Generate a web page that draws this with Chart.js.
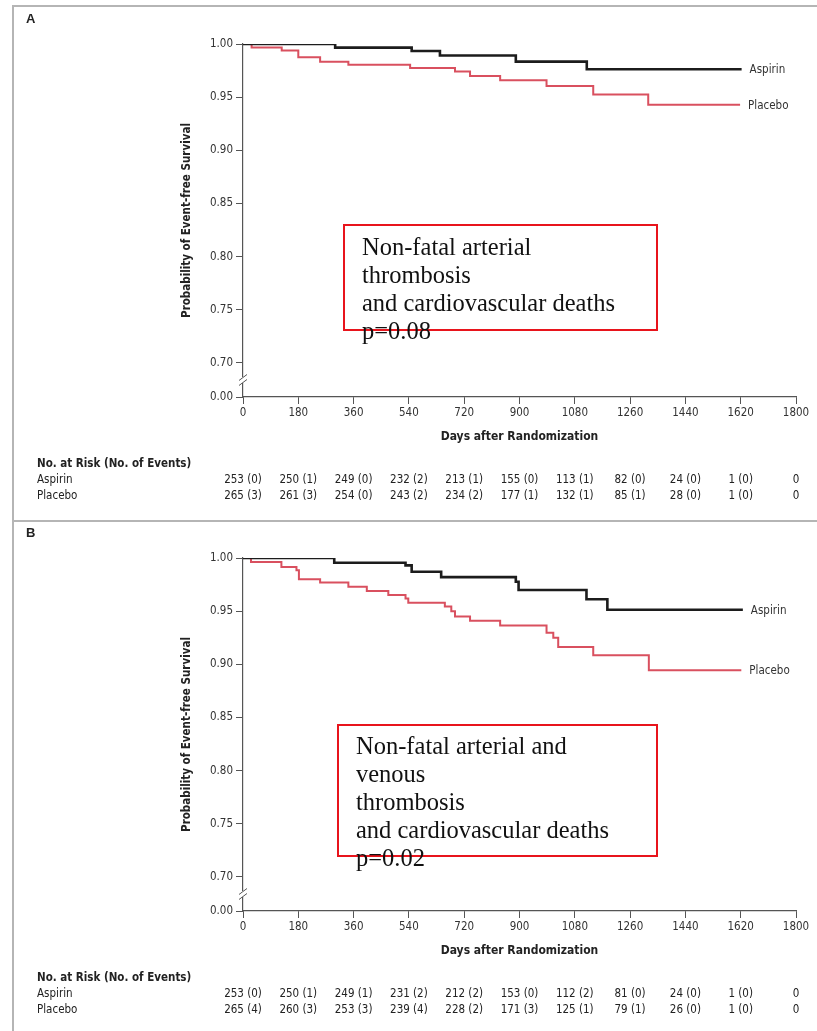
<!DOCTYPE html>
<html><head><meta charset="utf-8">
<script src="https://cdn.jsdelivr.net/npm/chart.js@4.4.0/dist/chart.umd.min.js"></script>
<style>
body{margin:0;background:#fff;}
#wrap{position:relative;width:817px;height:1031px;overflow:hidden;font-family:'DejaVu Sans Condensed','Liberation Sans Narrow',sans-serif;color:#222;}
.panel{position:absolute;left:0;width:817px;height:514px;}
.panel canvas{position:absolute;left:0;top:0;}
.t{position:absolute;white-space:nowrap;font-size:11px;line-height:14px;}
.b{font-weight:bold;}
.box{position:absolute;border:2px solid #e8141c;box-sizing:border-box;}
.note{position:absolute;font-family:'Liberation Serif',serif;font-size:24.5px;line-height:28px;color:#111;white-space:nowrap;}
.frame{position:absolute;background:#b5b5b5;}
</style></head>
<body>
<div id="wrap">
  <div class="frame" style="left:12px;top:5px;width:805px;height:1.5px"></div>
  <div class="frame" style="left:12px;top:5px;width:1.5px;height:1026px"></div>
  <div class="frame" style="left:12px;top:520px;width:805px;height:1.5px"></div>
  <div class="panel" id="pA" style="top:0"><canvas id="cA" width="817" height="514"></canvas></div>
  <div class="panel" id="pB" style="top:514px"><canvas id="cB" width="817" height="514"></canvas></div>
</div>
<script>
// ---- data ----
const seriesNames = ['Aspirin', 'Placebo'];
const xTicks = [0, 180, 360, 540, 720, 900, 1080, 1260, 1440, 1620, 1800];
const xTickLabels = ['0', '180', '360', '540', '720', '900', '1080', '1260', '1440', '1620', '1800'];
const yAxisMin = 0.668;
const yTickValues = [0.668, 0.70, 0.75, 0.80, 0.85, 0.90, 0.95, 1.00];
const yTickLabels = ['0.00', '0.70', '0.75', '0.80', '0.85', '0.90', '0.95', '1.00'];
const xTitle = 'Days after Randomization';
const yTitle = 'Probability of Event-free Survival';

// Panel A
const aspirinA_days = [0, 300, 549, 641, 888, 1119, 1623];
const aspirinA_surv = [1.0, 0.9966, 0.9934, 0.9892, 0.9834, 0.9762, 0.9762];
const placeboA_days = [0, 28, 126, 180, 251, 343, 544, 690, 739, 837, 988, 1140, 1319, 1618];
const placeboA_surv = [1.0, 0.9966, 0.994, 0.9876, 0.9834, 0.9806, 0.9774, 0.9742, 0.970, 0.966, 0.9606, 0.9526, 0.9428, 0.9428];
// Panel B
const aspirinB_days = [0, 297, 529, 549, 645, 888, 897, 1118, 1186, 1627];
const aspirinB_surv = [1.0, 0.9956, 0.9931, 0.987, 0.982, 0.9777, 0.9699, 0.9612, 0.9513, 0.9513];
const placeboB_days = [0, 26, 125, 174, 182, 251, 343, 403, 473, 529, 538, 657, 678, 690, 739, 837, 988, 1010, 1026, 1140, 1321, 1622];
const placeboB_surv = [1.0, 0.9963, 0.9916, 0.9885, 0.980, 0.977, 0.973, 0.969, 0.9652, 0.962, 0.958, 0.9544, 0.950, 0.945, 0.941, 0.9364, 0.9296, 0.925, 0.9163, 0.9085, 0.8945, 0.8945];

// Number at risk
const riskDays = [0, 180, 360, 540, 720, 900, 1080, 1260, 1440, 1620, 1800];
const riskA_aspirin = [253, 250, 249, 232, 213, 155, 113, 82, 24, 1, 0];
const eventsA_aspirin = [0, 1, 0, 2, 1, 0, 1, 0, 0, 0, null];
const riskA_placebo = [265, 261, 254, 243, 234, 177, 132, 85, 28, 1, 0];
const eventsA_placebo = [3, 3, 0, 2, 2, 1, 1, 1, 0, 0, null];
const riskB_aspirin = [253, 250, 249, 231, 212, 153, 112, 81, 24, 1, 0];
const eventsB_aspirin = [0, 1, 1, 2, 2, 0, 2, 0, 0, 0, null];
const riskB_placebo = [265, 260, 253, 239, 228, 171, 125, 79, 26, 1, 0];
const eventsB_placebo = [4, 3, 3, 4, 2, 3, 1, 1, 0, 0, null];

const riskHeader = 'No. at Risk (No. of Events)';
const noteA = ['Non-fatal arterial', 'thrombosis', 'and cardiovascular deaths', 'p=0.08'];
const noteB = ['Non-fatal arterial and', 'venous', 'thrombosis', 'and cardiovascular deaths', 'p=0.02'];

// ---- drawing ----
const FONT = "'DejaVu Sans Condensed','Liberation Sans Narrow',sans-serif";
const AXIS_COLOR = '#555';

const breakPlugin = {
  id: 'axisBreak',
  afterDraw(chart) {
    const {ctx, scales: {y}} = chart;
    const x = chart.chartArea.left;
    const yb = (y.getPixelForValue(yTickValues[0]) + y.getPixelForValue(yTickValues[1])) / 2;
    ctx.save();
    ctx.fillStyle = '#fff';
    ctx.fillRect(x - 2, yb - 3, 4, 6);
    ctx.strokeStyle = AXIS_COLOR;
    ctx.lineWidth = 1;
    for (const d of [-2.5, 2.5]) {
      ctx.beginPath();
      ctx.moveTo(x - 4, yb + d + 3);
      ctx.lineTo(x + 4, yb + d - 3);
      ctx.stroke();
    }
    ctx.restore();
  }
};

function makeChart(canvas, aD, aS, pD, pS) {
  const pts = (d, s) => d.map((x, i) => ({x, y: s[i]}));
  return new Chart(canvas, {
    type: 'line',
    data: {datasets: [
      {label: seriesNames[0], data: pts(aD, aS), borderColor: '#1c1c1c', borderWidth: 2.6, stepped: true, pointRadius: 0, fill: false},
      {label: seriesNames[1], data: pts(pD, pS), borderColor: '#d9505f', borderWidth: 2, stepped: true, pointRadius: 0, fill: false}
    ]},
    options: {
      responsive: false, animation: false, events: [],
      layout: {padding: {left: 170, top: 44, right: 21, bottom: 0}},
      plugins: {legend: {display: false}, tooltip: {enabled: false}},
      scales: {
        x: {
          type: 'linear', min: 0, max: 1800,
          afterBuildTicks: s => { s.ticks = xTicks.map(v => ({value: v})); },
          grid: {drawOnChartArea: false, drawTicks: true, tickLength: 7, color: AXIS_COLOR, lineWidth: 1},
          border: {display: true, color: AXIS_COLOR, width: 1.2},
          ticks: {font: {family: FONT, size: 11.5}, color: '#333', padding: 2, maxRotation: 0, autoSkip: false,
                  callback: (v, i) => xTickLabels[i]},
          title: {display: true, text: xTitle, font: {family: FONT, size: 12, weight: 'bold'}, color: '#222', padding: {top: 0, bottom: 70}},
          afterFit: s => { s.height = 117; }
        },
        y: {
          type: 'linear', min: yAxisMin, max: 1.0,
          afterBuildTicks: s => { s.ticks = yTickValues.map(v => ({value: v})); },
          grid: {drawOnChartArea: false, drawTicks: true, tickLength: 7, color: AXIS_COLOR, lineWidth: 1},
          border: {display: true, color: AXIS_COLOR, width: 1.2},
          ticks: {font: {family: FONT, size: 11.5}, color: '#333', padding: 3, autoSkip: false,
                  callback: (v, i) => yTickLabels[i]},
          title: {display: true, text: yTitle, font: {family: FONT, size: 11.5, weight: 'bold'}, color: '#222', padding: {top: 10, bottom: 0}},
          afterFit: s => { s.width = 73; }
        }
      }
    },
    plugins: [breakPlugin]
  });
}

function addText(parent, text, left, top, extraClass, style) {
  const d = document.createElement('div');
  d.className = 't ' + (extraClass || '');
  d.textContent = text;
  d.style.left = left + 'px';
  d.style.top = top + 'px';
  if (style) Object.assign(d.style, style);
  parent.appendChild(d);
  return d;
}

function decorate(panelId, chart, letter, aD, aS, pD, pS, rA, eA, rP, eP, note, box, noteTop, noteLeft) {
  const p = document.getElementById(panelId);
  const xs = chart.scales.x, ys = chart.scales.y;
  addText(p, letter, 26, 12, 'b', {fontSize: '13px', fontFamily: "'Liberation Sans',sans-serif"});
  // end labels
  addText(p, seriesNames[0], xs.getPixelForValue(aD[aD.length - 1]) + 8, ys.getPixelForValue(aS[aS.length - 1]) - 7, '', {color: '#333', fontSize: '11.5px'});
  addText(p, seriesNames[1], xs.getPixelForValue(pD[pD.length - 1]) + 8, ys.getPixelForValue(pS[pS.length - 1]) - 7, '', {color: '#333', fontSize: '11.5px'});
  // risk table
  addText(p, riskHeader, 37, 456, 'b', {fontSize: '11.5px'});
  addText(p, seriesNames[0], 37, 472, '', {fontSize: '11.5px'});
  addText(p, seriesNames[1], 37, 488, '', {fontSize: '11.5px'});
  riskDays.forEach((d, i) => {
    const x = xs.getPixelForValue(d);
    const la = eA[i] == null ? String(rA[i]) : rA[i] + ' (' + eA[i] + ')';
    const lp = eP[i] == null ? String(rP[i]) : rP[i] + ' (' + eP[i] + ')';
    addText(p, la, x, 472, '', {transform: 'translateX(-50%)', fontSize: '11.5px'});
    addText(p, lp, x, 488, '', {transform: 'translateX(-50%)', fontSize: '11.5px'});
  });
  // annotation box
  const b = document.createElement('div');
  b.className = 'box';
  Object.assign(b.style, {left: box[0] + 'px', top: box[1] + 'px', width: box[2] + 'px', height: box[3] + 'px'});
  p.appendChild(b);
  const n = document.createElement('div');
  n.className = 'note';
  n.style.left = noteLeft + 'px';
  n.style.top = noteTop + 'px';
  n.innerHTML = note.map(s => s.replace(/&/g, '&amp;')).join('<br>');
  p.appendChild(n);
}

const chA = makeChart(document.getElementById('cA'), aspirinA_days, aspirinA_surv, placeboA_days, placeboA_surv);
const chB = makeChart(document.getElementById('cB'), aspirinB_days, aspirinB_surv, placeboB_days, placeboB_surv);
decorate('pA', chA, 'A', aspirinA_days, aspirinA_surv, placeboA_days, placeboA_surv,
  riskA_aspirin, eventsA_aspirin, riskA_placebo, eventsA_placebo, noteA, [343, 224, 315, 107], 233, 362);
decorate('pB', chB, 'B', aspirinB_days, aspirinB_surv, placeboB_days, placeboB_surv,
  riskB_aspirin, eventsB_aspirin, riskB_placebo, eventsB_placebo, noteB, [337, 210, 321, 133], 218, 356);
</script>
</body></html>
